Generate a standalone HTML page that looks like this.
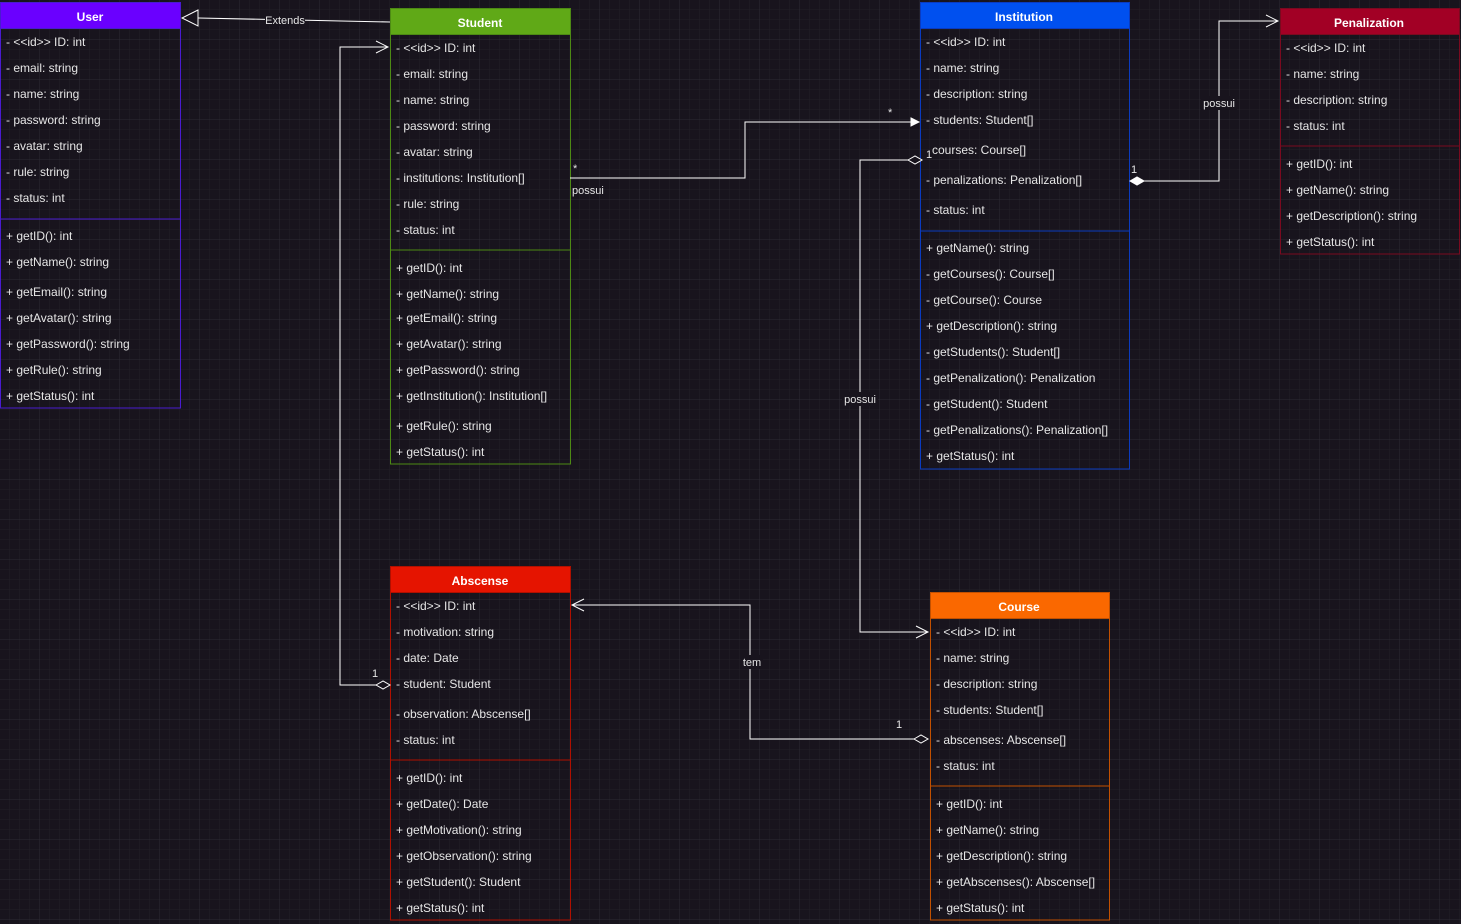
<!DOCTYPE html>
<html><head><meta charset="utf-8"><style>
html,body{margin:0;padding:0;background:#18141d;}
svg{display:block;font-family:"Liberation Sans",sans-serif;}
g.t text{transform:translateY(1px);}
</style></head><body>
<svg width="1461" height="924" xmlns="http://www.w3.org/2000/svg">
<defs>
<pattern id="g1" width="10" height="10" patternUnits="userSpaceOnUse"><path d="M10 0V10H0" fill="none" stroke="#221f27" stroke-width="1"/></pattern>
<pattern id="g2" width="40" height="40" patternUnits="userSpaceOnUse"><path d="M40 0V40H0" fill="none" stroke="#2d2a32" stroke-width="1"/></pattern>
</defs>
<rect width="1461" height="924" fill="#18141d"/>
<rect width="1461" height="924" fill="url(#g1)"/>
<rect width="1461" height="924" fill="url(#g2)"/>

<g class="t" font-size="12" fill="#e6e6e6">
<!-- User -->
<rect x="0.5" y="28" width="180" height="380" fill="none" stroke="#4a1bd0"/>
<line x1="0" y1="219" x2="180" y2="219" stroke="#4a1bd0"/>
<rect x="0.5" y="2.5" width="180" height="26" fill="#6a00ff" stroke="#4a1bd0"/>
<text x="90" y="20" text-anchor="middle" font-weight="bold" fill="#fff">User</text>
<text x="6" y="45">- &lt;&lt;id&gt;&gt; ID: int</text>
<text x="6" y="71">- email: string</text>
<text x="6" y="97">- name: string</text>
<text x="6" y="123">- password: string</text>
<text x="6" y="149">- avatar: string</text>
<text x="6" y="175">- rule: string</text>
<text x="6" y="201">- status: int</text>
<text x="6" y="239">+ getID(): int</text>
<text x="6" y="265">+ getName(): string</text>
<text x="6" y="295">+ getEmail(): string</text>
<text x="6" y="321">+ getAvatar(): string</text>
<text x="6" y="347">+ getPassword(): string</text>
<text x="6" y="373">+ getRule(): string</text>
<text x="6" y="399">+ getStatus(): int</text>

<!-- Student -->
<rect x="390.5" y="34" width="180" height="430" fill="none" stroke="#4d8a14"/>
<line x1="390" y1="250" x2="570" y2="250" stroke="#4d8a14"/>
<rect x="390.5" y="8.5" width="180" height="26" fill="#60a917" stroke="#4d8a14"/>
<text x="480" y="26" text-anchor="middle" font-weight="bold" fill="#fff">Student</text>
<text x="396" y="51">- &lt;&lt;id&gt;&gt; ID: int</text>
<text x="396" y="77">- email: string</text>
<text x="396" y="103">- name: string</text>
<text x="396" y="129">- password: string</text>
<text x="396" y="155">- avatar: string</text>
<text x="396" y="181">- institutions: Institution[]</text>
<text x="396" y="207">- rule: string</text>
<text x="396" y="233">- status: int</text>
<text x="396" y="271">+ getID(): int</text>
<text x="396" y="297">+ getName(): string</text>
<text x="396" y="321">+ getEmail(): string</text>
<text x="396" y="347">+ getAvatar(): string</text>
<text x="396" y="373">+ getPassword(): string</text>
<text x="396" y="399">+ getInstitution(): Institution[]</text>
<text x="396" y="429">+ getRule(): string</text>
<text x="396" y="455">+ getStatus(): int</text>

<!-- Institution -->
<rect x="920.5" y="28" width="209" height="441" fill="none" stroke="#0a3bc0"/>
<line x1="920" y1="231" x2="1129" y2="231" stroke="#0a3bc0"/>
<rect x="920.5" y="2.5" width="209" height="26" fill="#0050ef" stroke="#0a3bc0"/>
<text x="1024" y="20" text-anchor="middle" font-weight="bold" fill="#fff">Institution</text>
<text x="926" y="45">- &lt;&lt;id&gt;&gt; ID: int</text>
<text x="926" y="71">- name: string</text>
<text x="926" y="97">- description: string</text>
<text x="926" y="123">- students: Student[]</text>
<text x="932" y="153">courses: Course[]</text>
<text x="926" y="183">- penalizations: Penalization[]</text>
<text x="926" y="213">- status: int</text>
<text x="926" y="251">+ getName(): string</text>
<text x="926" y="277">- getCourses(): Course[]</text>
<text x="926" y="303">- getCourse(): Course</text>
<text x="926" y="329">+ getDescription(): string</text>
<text x="926" y="355">- getStudents(): Student[]</text>
<text x="926" y="381">- getPenalization(): Penalization</text>
<text x="926" y="407">- getStudent(): Student</text>
<text x="926" y="433">- getPenalizations(): Penalization[]</text>
<text x="926" y="459">+ getStatus(): int</text>

<!-- Penalization -->
<rect x="1280.5" y="34" width="179" height="220" fill="none" stroke="#7a0a1f"/>
<line x1="1280" y1="146" x2="1459" y2="146" stroke="#7a0a1f"/>
<rect x="1280.5" y="8.5" width="179" height="26" fill="#a20025" stroke="#7a0a1f"/>
<text x="1369" y="26" text-anchor="middle" font-weight="bold" fill="#fff">Penalization</text>
<text x="1286" y="51">- &lt;&lt;id&gt;&gt; ID: int</text>
<text x="1286" y="77">- name: string</text>
<text x="1286" y="103">- description: string</text>
<text x="1286" y="129">- status: int</text>
<text x="1286" y="167">+ getID(): int</text>
<text x="1286" y="193">+ getName(): string</text>
<text x="1286" y="219">+ getDescription(): string</text>
<text x="1286" y="245">+ getStatus(): int</text>

<!-- Abscense -->
<rect x="390.5" y="592" width="180" height="328" fill="none" stroke="#b01000"/>
<line x1="390" y1="760" x2="570" y2="760" stroke="#b01000"/>
<rect x="390.5" y="566.5" width="180" height="26" fill="#e51400" stroke="#b01000"/>
<text x="480" y="584" text-anchor="middle" font-weight="bold" fill="#fff">Abscense</text>
<text x="396" y="609">- &lt;&lt;id&gt;&gt; ID: int</text>
<text x="396" y="635">- motivation: string</text>
<text x="396" y="661">- date: Date</text>
<text x="396" y="687">- student: Student</text>
<text x="396" y="717">- observation: Abscense[]</text>
<text x="396" y="743">- status: int</text>
<text x="396" y="781">+ getID(): int</text>
<text x="396" y="807">+ getDate(): Date</text>
<text x="396" y="833">+ getMotivation(): string</text>
<text x="396" y="859">+ getObservation(): string</text>
<text x="396" y="885">+ getStudent(): Student</text>
<text x="396" y="911">+ getStatus(): int</text>

<!-- Course -->
<rect x="930.5" y="618" width="179" height="302" fill="none" stroke="#c25000"/>
<line x1="930" y1="786" x2="1109" y2="786" stroke="#c25000"/>
<rect x="930.5" y="592.5" width="179" height="26" fill="#fa6800" stroke="#c25000"/>
<text x="1019" y="610" text-anchor="middle" font-weight="bold" fill="#fff">Course</text>
<text x="936" y="635">- &lt;&lt;id&gt;&gt; ID: int</text>
<text x="936" y="661">- name: string</text>
<text x="936" y="687">- description: string</text>
<text x="936" y="713">- students: Student[]</text>
<text x="936" y="743">- abscenses: Abscense[]</text>
<text x="936" y="769">- status: int</text>
<text x="936" y="807">+ getID(): int</text>
<text x="936" y="833">+ getName(): string</text>
<text x="936" y="859">+ getDescription(): string</text>
<text x="936" y="885">+ getAbscenses(): Abscense[]</text>
<text x="936" y="911">+ getStatus(): int</text>
</g>

<!-- connectors -->
<g fill="none" stroke="#ffffff" stroke-width="1">
<path d="M390 22 L198 18"/>
<path d="M198 10 L182 18 L198 26 Z" fill="#18141d"/>
<path d="M376 685 H340 V47 H388"/>
<path d="M376 41 L388 47 L376 53"/>
<path d="M376 685 l7 -4 l7 4 l-7 4 Z" fill="#18141d"/>
<path d="M570 178 H745 V122 H912"/>
<path d="M911 118 L919 122 L911 126 Z" fill="#fff"/>
<path d="M910 160 H860 V632 H928"/>
<path d="M916 626 L928 632 L916 638"/>
<path d="M908 160 l7 -4 l7 4 l-7 4 Z" fill="#18141d"/>
<path d="M1144 181 H1219 V21 H1278"/>
<path d="M1266 15 L1278 21 L1266 27"/>
<path d="M1130 181 l7 -4 l7 4 l-7 4 Z" fill="#fff"/>
<path d="M914 739 H750 V605 H572"/>
<path d="M584 599 L572 605 L584 611"/>
<path d="M914 739 l7 -4 l7 4 l-7 4 Z" fill="#18141d"/>
</g>

<g font-size="11" fill="#e6e6e6">
<rect x="265" y="13" width="40" height="13" fill="#18141d"/>
<text x="285" y="24" text-anchor="middle">Extends</text>
<text x="372" y="677">1</text>
<text x="573" y="172">*</text>
<text x="572" y="194">possui</text>
<text x="888" y="116">*</text>
<text x="926" y="158">1</text>
<rect x="842" y="392" width="36" height="14" fill="#18141d"/>
<text x="860" y="403" text-anchor="middle">possui</text>
<text x="1131" y="173">1</text>
<rect x="1201" y="96" width="36" height="14" fill="#18141d"/>
<text x="1219" y="107" text-anchor="middle">possui</text>
<rect x="741" y="655" width="22" height="14" fill="#18141d"/>
<text x="752" y="666" text-anchor="middle">tem</text>
<text x="896" y="728">1</text>
</g>
</svg>
</body></html>
